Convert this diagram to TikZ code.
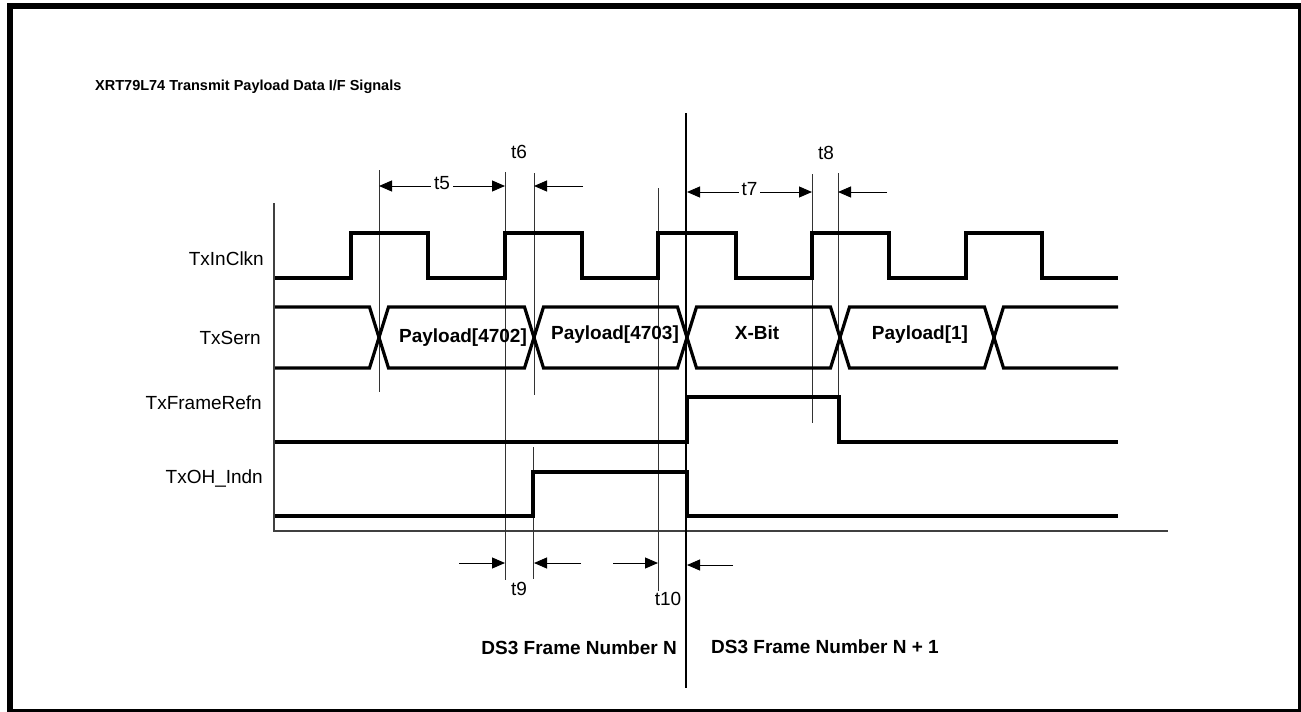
\documentclass[tikz,border=0pt]{standalone}
\usepackage{fontspec}
\setmainfont{Liberation Sans}
\usetikzlibrary{arrows.meta}
\begin{document}
\begin{tikzpicture}[x=1pt,y=-1pt,
  wave/.style={line width=3.2pt, line join=miter},
  guide/.style={line width=1pt, black!80},
  axisline/.style={line width=2pt, black!75},
  tarr/.style={line width=1pt, -{Triangle[length=13pt,width=11pt]}},
  tarrb/.style={line width=1pt, {Triangle[length=13pt,width=11pt]}-{Triangle[length=13pt,width=11pt]}},
  lbl/.style={font=\fontsize{19}{22}\selectfont, inner sep=0pt},
  blbl/.style={font=\fontsize{19}{22}\selectfont\bfseries, inner sep=0pt},
  ttl/.style={font=\fontsize{14.5}{17}\selectfont\bfseries, inner sep=0pt},
]
\useasboundingbox (0,0) rectangle (1301,712);
\draw[line width=6pt] (10,6) rectangle (1301,712);

% title
\node[ttl, anchor=west] (title) at (95,87) {XRT79L74 Transmit Payload Data I/F Signals};

% signal names
\node[lbl, anchor=east] (nclk) at (264,259) {TxInClkn};
\node[lbl, anchor=east] (nser) at (261,338) {TxSern};
\node[lbl, anchor=east] (nfr) at (262,403) {TxFrameRefn};
\node[lbl, anchor=east] (noh) at (263,478) {TxOH\_Indn};

% axes
\draw[axisline] (274,203) -- (274,531) -- (1168,531);

% guide lines
\coordinate (g1t) at (379,170); \coordinate (g1b) at (379,392);
\coordinate (g2t) at (505,172); \coordinate (g2b) at (505,580);
\coordinate (g3t) at (534,173); \coordinate (g3b) at (534,395);
\coordinate (g4t) at (533,447); \coordinate (g4b) at (533,579);
\coordinate (g5t) at (658,188); \coordinate (g5b) at (658,591);
\coordinate (g6t) at (686,113); \coordinate (g6b) at (686,688);
\coordinate (g7t) at (812,174); \coordinate (g7b) at (812,423);
\coordinate (g8t) at (838,173); \coordinate (g8b) at (838,397);
\foreach \a/\b in {g1t/g1b,g2t/g2b,g3t/g3b,g4t/g4b,g5t/g5b,g7t/g7b,g8t/g8b}
  \draw[guide] (\a) -- (\b);
\draw[line width=1.3pt] (g6t) -- (g6b);

% clock
\draw[wave] (275,278) -- (351,278) -- (351,233) -- (428,233) -- (428,278) -- (505,278) -- (505,233) -- (582,233) -- (582,278) -- (658,278) -- (658,233) -- (736,233) -- (736,278) -- (812,278) -- (812,233) -- (889,233) -- (889,278) -- (966,278) -- (966,233) -- (1042,233) -- (1042,278) -- (1118,278);

% TxSern bus
\def\hw{9.5}
\draw[wave] (275,307) -- (379-\hw,307) -- (379,337.5) -- (379-\hw,368) -- (275,368);
\foreach \ca/\cb in {379/534,534/687,687/840,840/994}
  \draw[wave] (\ca,337.5) -- (\ca+\hw,307) -- (\cb-\hw,307) -- (\cb,337.5) -- (\cb-\hw,368) -- (\ca+\hw,368) -- cycle;
\draw[wave] (1118,307) -- (994+\hw,307) -- (994,337.5) -- (994+\hw,368) -- (1118,368);

\node[blbl] (p4702) at (463,338) {Payload[4702]};
\node[blbl] (p4703) at (615,335) {Payload[4703]};
\node[blbl] (xbit) at (757,333) {X-Bit};
\node[blbl] (p1) at (920,335) {Payload[1]};

% TxFrameRefn
\draw[wave] (275,442) -- (687,442) -- (687,397) -- (839,397) -- (839,442) -- (1118,442);
% TxOH_Indn
\draw[wave] (275,516) -- (533,516) -- (533,472) -- (687,472) -- (687,516) -- (1118,516);

% timing arrows top
\coordinate (a5l) at (379,186); \coordinate (a5r) at (505,186);
\draw[tarrb] (a5l) -- node[lbl, fill=white, inner xsep=3pt, inner ysep=1pt, yshift=3pt] (t5) {t5} (a5r);
\coordinate (a6s) at (583,186); \coordinate (a6e) at (534,186);
\draw[tarr] (a6s) -- (a6e);
\node[lbl] (t6) at (519,152) {t6};

\coordinate (a7l) at (687,192); \coordinate (a7r) at (812,192);
\draw[tarrb] (a7l) -- node[lbl, fill=white, inner xsep=3pt, inner ysep=1pt, yshift=3pt] (t7) {t7} (a7r);
\coordinate (a8s) at (887,192); \coordinate (a8e) at (838,192);
\draw[tarr] (a8s) -- (a8e);
\node[lbl] (t8) at (826,153) {t8};

% timing arrows bottom
\coordinate (a9s) at (459,563); \coordinate (a9e) at (505,563);
\draw[tarr] (a9s) -- (a9e);
\coordinate (a9s2) at (581,563); \coordinate (a9e2) at (534,563);
\draw[tarr] (a9s2) -- (a9e2);
\node[lbl] (t9) at (519,589) {t9};

\coordinate (a10s) at (613,563); \coordinate (a10e) at (658,563);
\draw[tarr] (a10s) -- (a10e);
\coordinate (a10s2) at (733,565); \coordinate (a10e2) at (687,565);
\draw[tarr] (a10s2) -- (a10e2);
\node[lbl] (t10) at (668,599) {t10};

% frame labels
\node[blbl, anchor=east] (fn) at (677,648) {DS3 Frame Number N};
\node[blbl, anchor=west] (fn1) at (711,647) {DS3 Frame Number N + 1};
\end{tikzpicture}
\end{document}
